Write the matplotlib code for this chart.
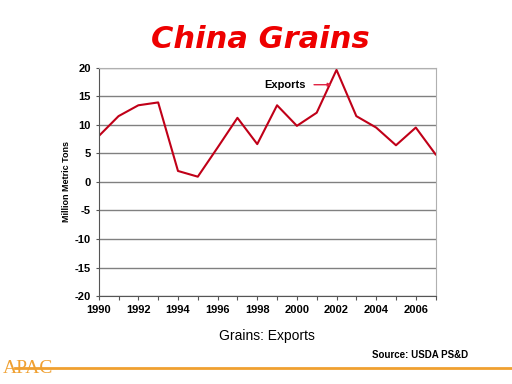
import matplotlib
matplotlib.use('Agg')
import matplotlib.pyplot as plt

plt.rcParams['font.family'] = ['Liberation Sans', 'DejaVu Sans']
plt.rcParams['axes.unicode_minus'] = False

# exportacoes de graos da China (milhoes de toneladas)
anos = list(range(1990, 2008))
exportacoes = [8.0, 11.5, 13.4, 13.9, 1.9, 0.9, 6.0, 11.2, 6.6, 13.4,
               9.8, 12.1, 19.6, 11.5, 9.5, 6.4, 9.5, 4.8]
ticks_x = list(range(1990, 2008, 2))
ticks_y = list(range(-20, 25, 5))

fig = plt.figure(figsize=(5.12, 3.84), dpi=100)
ax = fig.add_axes([0.1928, 0.229, 0.658, 0.595])

ax.plot(anos, exportacoes, color='#C00018', linewidth=1.5)

ax.set_xlim(1990, 2007)
ax.set_ylim(-20, 20)
ax.set_xticks(ticks_x)
ax.set_xticks(anos, minor=True)
ax.set_yticks(ticks_y)
ax.tick_params(axis='both', labelsize=8, length=3, width=0.8, color='#555555')
ax.tick_params(axis='x', which='minor', length=3, width=0.8, color='#555555')
ax.tick_params(axis='y', length=2)
for t in ax.get_xticklabels() + ax.get_yticklabels():
    t.set_fontweight('bold')
ax.grid(axis='y', color='#808080', linewidth=1.0)
for s in ['top', 'right']:
    ax.spines[s].set_color('#b0b0b0')
for s in ['left', 'bottom']:
    ax.spines[s].set_color('#555555')
ax.set_ylabel('Million Metric Tons', fontsize=6.5, fontweight='bold', labelpad=3)

ax.annotate('Exports', xy=(2001.75, 17.0), xytext=(1998.35, 17.0),
            fontsize=8, fontweight='bold', va='center',
            arrowprops=dict(arrowstyle='-|>', color='#E02040', lw=1,
                            mutation_scale=5, shrinkA=4, shrinkB=0))

fig.text(0.508, 0.898, 'China Grains', ha='center', va='center', fontsize=22,
         fontweight='heavy', style='italic', color='#EE0000',
         family=['DejaVu Sans'])
fig.text(0.521, 0.125, 'Grains: Exports', ha='center', va='center', fontsize=10)
fig.text(0.915, 0.075, 'Source: USDA PS&D', ha='right', va='center',
         fontsize=7, fontweight='bold')

fig.add_artist(plt.Line2D([0.03, 1.0], [0.041, 0.041], color='#F0A030', linewidth=2))
fig.text(0.005, 0.04, 'APAC', ha='left', va='center', fontsize=14,
         family='Liberation Serif', color='#F0A030')

fig.savefig('out.png', dpi=100)
